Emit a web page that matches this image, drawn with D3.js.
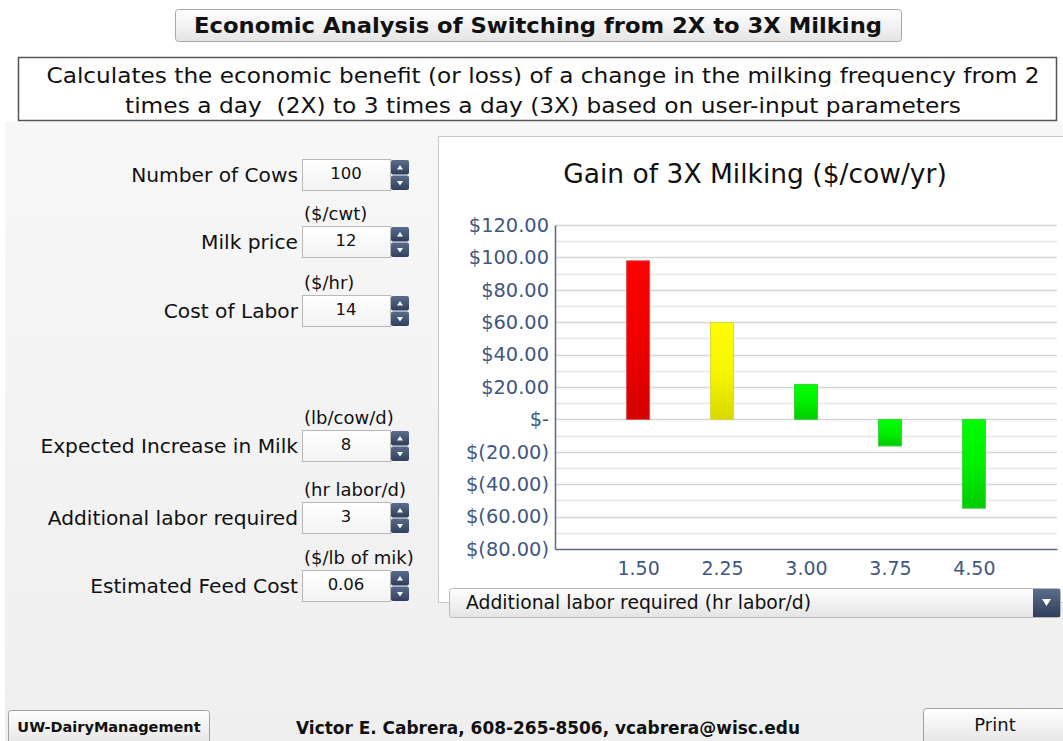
<!DOCTYPE html>
<html><head><meta charset="utf-8">
<script src="https://cdn.jsdelivr.net/npm/d3@7"></script>
<style>
html,body{margin:0;padding:0;background:#fff;}
svg{display:block;font-family:"DejaVu Sans",Verdana,sans-serif;}
</style></head>
<body><div id="chart"></div>
<script>
// ---- data ----
const categories = ["1.50", "2.25", "3.00", "3.75", "4.50"];
const gainValues = [97.9, 59.8, 21.6, -16.4, -54.8];
const barColors = ["red", "yellow", "green", "green", "green"];
const yTicks = [120, 100, 80, 60, 40, 20, 0, -20, -40, -60, -80];
const inputLabels = ["Number of Cows", "Milk price", "Cost of Labor", "Expected Increase in Milk", "Additional labor required", "Estimated Feed Cost"];
const inputUnits = ["", "($/cwt)", "($/hr)", "(lb/cow/d)", "(hr labor/d)", "($/lb of mik)"];
const inputValues = ["100", "12", "14", "8", "3", "0.06"];

const W = 1063, H = 741;
const svg = d3.select("#chart").append("svg").attr("width", W).attr("height", H);
const defs = svg.append("defs");

function grad(id, stops, vertical = true) {
  const g = defs.append("linearGradient").attr("id", id)
    .attr("x1", 0).attr("y1", 0).attr("x2", vertical ? 0 : 1).attr("y2", vertical ? 1 : 0);
  stops.forEach(s => g.append("stop").attr("offset", s[0]).attr("stop-color", s[1]));
}
grad("pageBg", [[0, "#f7f7f7"], [1, "#efefef"]]);
grad("btnBg", [[0, "#ffffff"], [1, "#e4e4e4"]]);
grad("spinBg", [[0, "#5a6d8c"], [1, "#2e3f5c"]]);
grad("inBg", [[0, "#ffffff"], [1, "#f3f3f3"]]);
grad("g_red", [[0, "#ff0000"], [0.5, "#f00000"], [1, "#d40000"]]);
grad("g_yellow", [[0, "#ffff00"], [0.5, "#f6f600"], [1, "#d9d900"]]);
grad("g_green", [[0, "#00ff00"], [0.5, "#00f000"], [1, "#00cc00"]]);
const strokeCol = { red: "#e05050", yellow: "#d8d840", green: "#40d040" };

// page background
svg.append("rect").attr("x", 0).attr("y", 0).attr("width", W).attr("height", H).attr("fill", "#fff");
svg.append("rect").attr("x", 5).attr("y", 122).attr("width", W - 5).attr("height", H - 122).attr("fill", "url(#pageBg)");

// title button
svg.append("rect").attr("x", 175.5).attr("y", 9.5).attr("width", 726).attr("height", 32).attr("rx", 3)
  .attr("fill", "url(#btnBg)").attr("stroke", "#a8a8a8");
svg.append("text").attr("x", 538).attr("y", 33).attr("text-anchor", "middle")
  .attr("font-size", 21).attr("font-weight", "bold").attr("fill", "#111")
  .attr("textLength", 688).attr("lengthAdjust", "spacingAndGlyphs")
  .text("Economic Analysis of Switching from 2X to 3X Milking");

// description box
svg.append("rect").attr("x", 18.5).attr("y", 57.5).attr("width", 1038).attr("height", 63)
  .attr("fill", "#fff").attr("stroke", "#555").attr("stroke-width", 1.5);
svg.append("text").attr("x", 543).attr("y", 83).attr("text-anchor", "middle").attr("font-size", 21).attr("fill", "#111")
  .attr("textLength", 993).attr("lengthAdjust", "spacingAndGlyphs")
  .text("Calculates the economic benefit (or loss) of a change in the milking frequency from 2");
svg.append("text").attr("x", 543).attr("y", 113).attr("text-anchor", "middle").attr("font-size", 21).attr("fill", "#111")
  .attr("textLength", 836).attr("lengthAdjust", "spacingAndGlyphs")
  .style("white-space", "pre")
  .text("times a day  (2X) to 3 times a day (3X) based on user-input parameters");

// ---- inputs ----
const boxTops = [159, 226, 295, 430, 502, 570];
inputLabels.forEach((lab, i) => {
  const y0 = boxTops[i];
  const g = svg.append("g");
  g.append("text").attr("x", 298).attr("y", y0 + 23).attr("text-anchor", "end")
    .attr("font-size", 20.2).attr("fill", "#111").text(lab);
  if (inputUnits[i]) g.append("text").attr("x", 304).attr("y", y0 - 6)
    .attr("font-size", 18).attr("fill", "#111").text(inputUnits[i]);
  g.append("rect").attr("x", 302.5).attr("y", y0 + 0.5).attr("width", 88).attr("height", 31)
    .attr("fill", "url(#inBg)").attr("stroke", "#b8b8b8");
  g.append("text").attr("x", 346).attr("y", y0 + 20).attr("text-anchor", "middle")
    .attr("font-size", 16.5).attr("fill", "#111").text(inputValues[i]);
  // spinner
  [0, 1].forEach(k => {
    g.append("rect").attr("x", 391).attr("y", y0 + 1 + k * 15.5).attr("width", 18).attr("height", 14.5).attr("rx", 2)
      .attr("fill", "url(#spinBg)");
    const cx = 400, cy = y0 + 8.5 + k * 15.5;
    const pts = k === 0 ? [[cx - 3, cy + 2], [cx + 3, cy + 2], [cx, cy - 2.5]] : [[cx - 3, cy - 2], [cx + 3, cy - 2], [cx, cy + 2.5]];
    g.append("polygon").attr("points", pts.map(p => p.join(",")).join(" ")).attr("fill", "#fff");
  });
});

// ---- chart panel ----
svg.append("rect").attr("x", 438.5).attr("y", 136.5).attr("width", 630).attr("height", 466)
  .attr("fill", "#fff").attr("stroke", "#c8c8c8");
svg.append("text").attr("x", 755).attr("y", 183).attr("text-anchor", "middle")
  .attr("font-size", 26.5).attr("fill", "#111").text("Gain of 3X Milking ($/cow/yr)");

const plot = { left: 555, right: 1057, top: 225, bottom: 549 };
const y = d3.scaleLinear().domain([-80, 120]).range([plot.bottom, plot.top]);
const x = d3.scalePoint().domain(categories).range([plot.left, plot.right]).padding(0.99);
const barW = 24;

// gridlines (every 10, darker every 20)
const gridVals = d3.range(-70, 121, 10);
svg.append("g").selectAll("line").data(gridVals).join("line")
  .attr("x1", plot.left).attr("x2", plot.right)
  .attr("y1", d => Math.round(y(d)) + 0.5).attr("y2", d => Math.round(y(d)) + 0.5)
  .attr("stroke", d => d % 20 === 0 ? "#d6d6d6" : "#e8e8e8").attr("stroke-width", 1.5);

// bars
const fmtMoney = d => d === 0 ? "$-" : (d < 0 ? "$(" + d3.format(",.2f")(-d) + ")" : "$" + d3.format(",.2f")(d));
svg.append("g").selectAll("rect").data(categories).join("rect")
  .attr("x", (d) => x(d) - barW / 2 + 0.5)
  .attr("y", (d, i) => y(Math.max(0, gainValues[i])))
  .attr("width", barW - 1)
  .attr("height", (d, i) => Math.abs(y(gainValues[i]) - y(0)))
  .attr("fill", (d, i) => "url(#g_" + barColors[i] + ")")
  .attr("stroke", (d, i) => strokeCol[barColors[i]]).attr("stroke-width", 1);

// axes
const yAxis = d3.axisLeft(y).tickValues(yTicks).tickFormat(fmtMoney).tickSize(0).tickPadding(6);
const gy = svg.append("g").attr("transform", `translate(${plot.left},0)`).call(yAxis);
gy.select(".domain").attr("stroke", "#5a6a86").attr("stroke-width", 1.5);
gy.selectAll("text").attr("font-size", 19.4).attr("fill", "#3f5780").attr("font-family", "DejaVu Sans, Verdana, sans-serif");

const xAxis = d3.axisBottom(x).tickSize(0).tickPadding(13);
const gx = svg.append("g").attr("transform", `translate(0,${plot.bottom})`).call(xAxis);
gx.select(".domain").attr("stroke", "#5a6a86").attr("stroke-width", 1.5);
gx.selectAll("text").attr("font-size", 19).attr("fill", "#3f5780").attr("font-family", "DejaVu Sans, Verdana, sans-serif");

// dropdown
svg.append("rect").attr("x", 449.5).attr("y", 588.5).attr("width", 611).attr("height", 29).attr("rx", 3)
  .attr("fill", "url(#btnBg)").attr("stroke", "#b8b8b8");
svg.append("text").attr("x", 466).attr("y", 609).attr("font-size", 18.8).attr("fill", "#111")
  .text("Additional labor required (hr labor/d)");
svg.append("rect").attr("x", 1033).attr("y", 589).attr("width", 27).attr("height", 28).attr("fill", "url(#spinBg)");
svg.append("polygon").attr("points", "1042,599 1051,599 1046.5,606").attr("fill", "#fff");

// ---- footer ----
svg.append("rect").attr("x", 8.5).attr("y", 710.5).attr("width", 201).attr("height", 34).attr("rx", 3)
  .attr("fill", "url(#btnBg)").attr("stroke", "#a0a0a0");
svg.append("text").attr("x", 109).attr("y", 732).attr("text-anchor", "middle").attr("font-size", 14.5)
  .attr("font-weight", "bold").attr("fill", "#111").text("UW-DairyManagement");
svg.append("text").attr("x", 548).attr("y", 734).attr("text-anchor", "middle").attr("font-size", 17)
  .attr("font-weight", "bold").attr("fill", "#111")
  .attr("textLength", 504).attr("lengthAdjust", "spacingAndGlyphs")
  .text("Victor E. Cabrera, 608-265-8506, vcabrera@wisc.edu");
svg.append("rect").attr("x", 923.5).attr("y", 708.5).attr("width", 145).attr("height", 36).attr("rx", 3)
  .attr("fill", "url(#btnBg)").attr("stroke", "#a0a0a0");
svg.append("text").attr("x", 995).attr("y", 731).attr("text-anchor", "middle").attr("font-size", 18)
  .attr("fill", "#111").text("Print");
</script></body></html>
